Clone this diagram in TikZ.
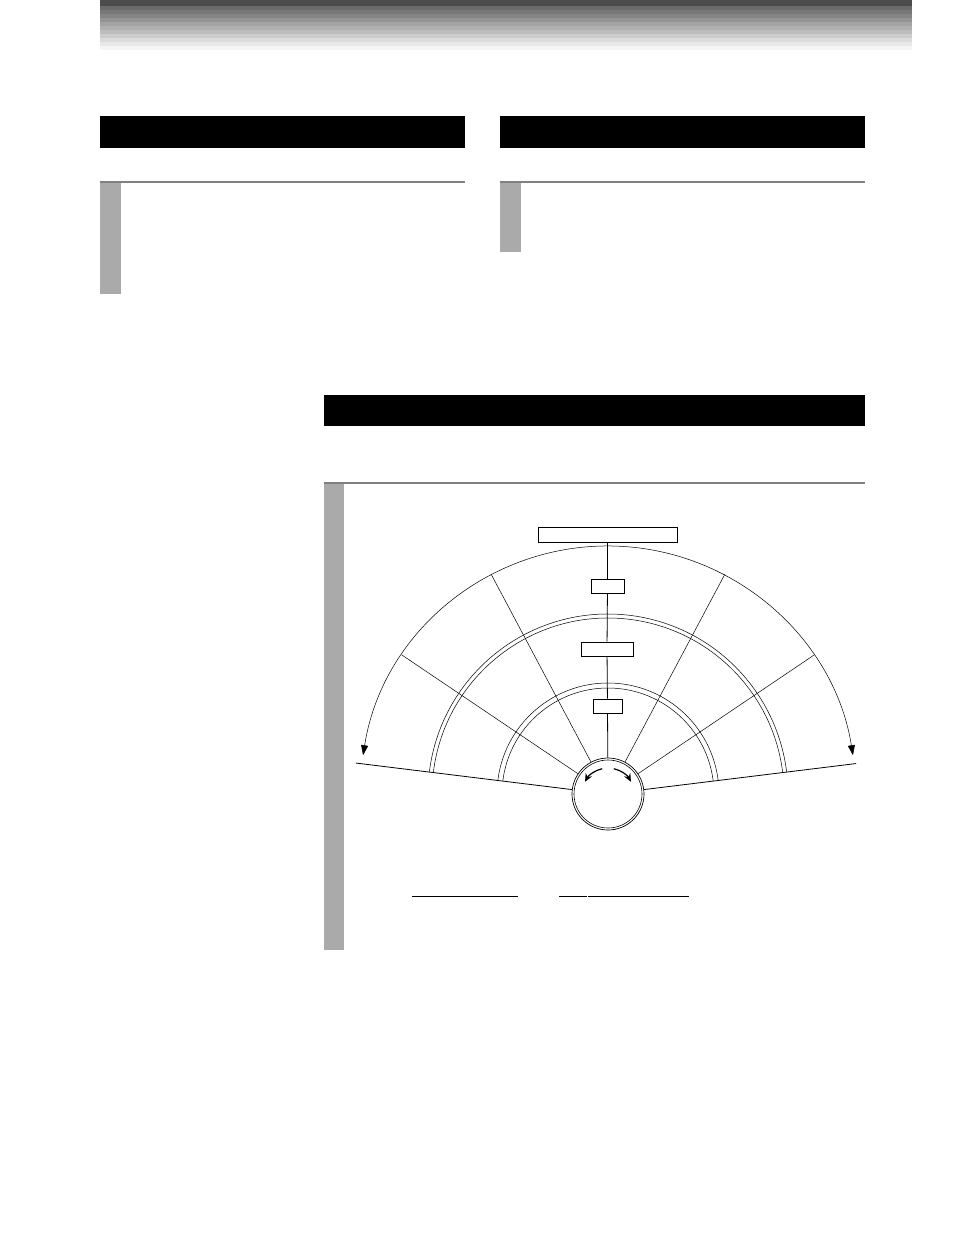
\documentclass[tikz,border=0pt]{standalone}
\usetikzlibrary{arrows.meta}
\definecolor{barline}{HTML}{808080}
\definecolor{sidebar}{HTML}{AAAAAA}
\tikzset{
  titlebar/.style={fill=black},
  markbox/.style={draw,rectangle,inner sep=0pt,line width=0.9pt,fill=white},
  thin/.style={line width=0.8pt},
  dial/.style={line width=0.5pt}
}
\begin{document}
\begin{tikzpicture}[x=1pt,y=-1pt]
   \useasboundingbox (0,0) rectangle (954,1235);
   % header shading
   \fill[black!70] (100,0) rectangle (912,6);
   \foreach \i in {1,...,11}
     \fill[black!\fpeval{round(64-5.5*\i)}] (100,{2+4*\i}) rectangle (912,{6+4*\i});
   % left section
   \fill[titlebar] (100,116) rectangle (465,148);
   \fill[barline] (100,181) rectangle (465,183);
   \fill[sidebar] (100,183) rectangle (121,294);
   % right section
   \fill[titlebar] (500,116) rectangle (865,148);
   \fill[barline] (500,181) rectangle (865,183);
   \fill[sidebar] (500,183) rectangle (521,252);
   % lower section
   \fill[titlebar] (324,395) rectangle (865,426);
   \fill[barline] (324,482) rectangle (865,484);
   \fill[sidebar] (324,484) rectangle (344,950);
   % dial
   \begin{scope}[shift={(608,794)},yscale=-1]
     \coordinate (o) at (0,0);
     \draw[dial,{Triangle[width=7pt,length=10pt]}-{Triangle[width=7pt,length=10pt]}]
       (171:248) arc[start angle=171,end angle=9,radius=248];
     \draw[dial] (173:180) arc[start angle=173,end angle=7,radius=180];
     \draw[dial] (173:176) arc[start angle=173,end angle=7,radius=176];
     \draw[dial] (173:111) arc[start angle=173,end angle=7,radius=111];
     \draw[dial] (173:106) arc[start angle=173,end angle=7,radius=106];
     \foreach \a in {34,62,118,146}
       \draw[dial] (\a:36) -- (\a:249);
     \draw[thin] (173:36) -- (173:254) coordinate (lend);
     \draw[thin] (7:36) -- (7:250) coordinate (rend);
     \node[circle,draw,fill=white,line width=0.7pt,minimum size=72pt,inner sep=0pt] (knob) at (o) {};
     \draw[line width=0.6pt] (o) circle[radius=34];
     \draw[line width=1.2pt,-{Stealth[length=8pt,width=7pt]}]
       (103:26) arc[start angle=103,end angle=152,radius=26];
     \draw[line width=1.2pt,-{Stealth[length=8pt,width=7pt]}]
       (77:26) arc[start angle=77,end angle=28,radius=26];
   \end{scope}
   % level boxes
   \node[markbox,minimum width=139pt,minimum height=15pt] (top) at (607.5,534.5) {};
   \node[markbox,minimum width=33pt,minimum height=14pt] (m1) at (607.5,586) {};
   \node[markbox,minimum width=52pt,minimum height=14pt] (m2) at (607,649) {};
   \node[markbox,minimum width=29pt,minimum height=14pt] (m3) at (607.5,706) {};
   \draw[thin] (top) -- (m1);
   \draw[thin] (m1) -- (m2);
   \draw[thin] (m2) -- (m3);
   \draw[thin] (m3) -- (knob);
   % underlines
   \draw[line width=1pt] (412,896) -- (518,896);
   \draw[line width=1pt] (559,896) -- (587,896);
   \draw[line width=1pt] (588,896) -- (689,896);
\end{tikzpicture}
\end{document}
